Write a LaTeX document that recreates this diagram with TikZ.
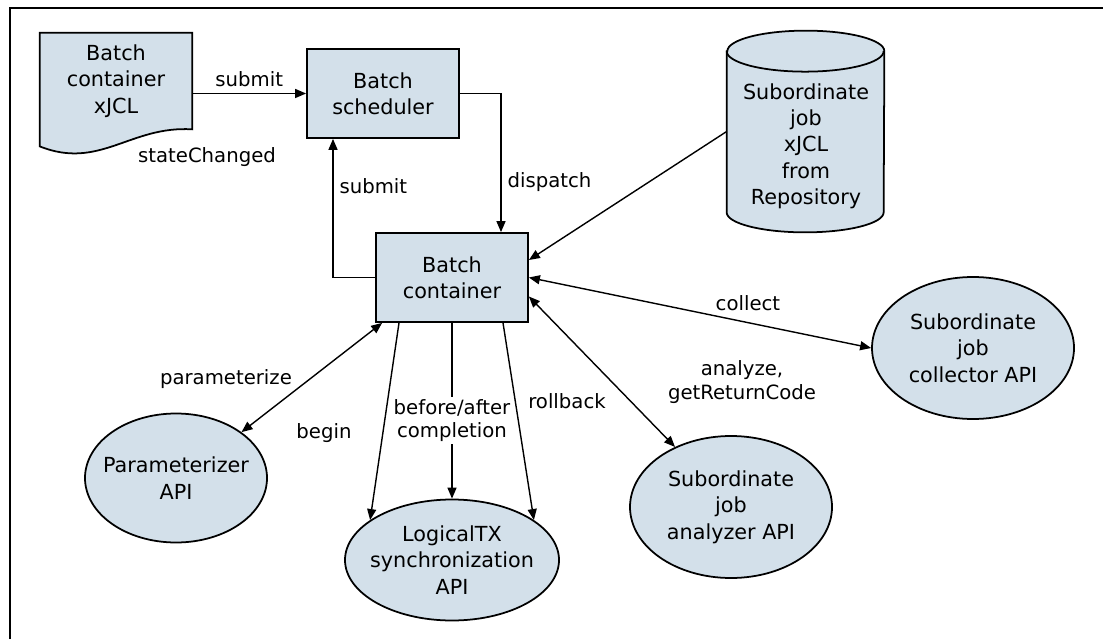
\documentclass[tikz,border=0pt]{standalone}
\usepackage{fontspec}
\setmainfont{DejaVu Sans}
\usepackage{tikz}
\usetikzlibrary{arrows.meta,positioning,shapes.geometric,backgrounds}
\definecolor{shade}{HTML}{D3E0EA}
\tikzset{
  box/.style={draw, fill=shade, line width=1pt, align=center, minimum width=3.04cm, minimum height=1.78cm,
              inner sep=2pt},
  docbox/.style={align=center, minimum width=3.04cm, minimum height=1.92cm, inner sep=2pt},
  docline/.style={draw, fill=shade, line width=1pt},
  repobox/.style={minimum width=3.14cm, minimum height=4.02cm, inner sep=0pt},
  api/.style={ellipse, draw, fill=shade, line width=1pt, inner sep=0pt},
  txt/.style={align=center},
  arr/.style={-{Triangle[length=2.2mm, width=1.8mm]}, line width=0.8pt},
  biarr/.style={{Triangle[length=2.2mm, width=1.8mm]}-{Triangle[length=2.2mm, width=1.8mm]}, line width=0.8pt},
  lab/.style={align=center, font=\fontsize{11.2}{13.6}\selectfont},
  frame/.style={line width=1.1pt},
}
\begin{document}
\begin{tikzpicture}[font=\fontsize{11.8}{15}\selectfont]
    \useasboundingbox (0,0) rectangle (22.06,12.78);
    \draw[frame] (0.2,0) -- (0.2,12.62) -- (22.06,12.62);
    % shapes
    \node[docbox] (xjcl) at (2.32,11.16) {Batch\\container\\xJCL};
    \begin{pgfonlayer}{background}
      \draw[docline] (xjcl.north west) -- (xjcl.north east) -- (xjcl.south east)
        .. controls +(-1.24,0.08) and +(1.2,-0.48) .. ([yshift=-0.34cm]xjcl.south west) -- cycle;
    \end{pgfonlayer}
    \node[box] (sched) at (7.66,10.91) {Batch\\scheduler};
    \node[box] (cont) at (9.04,7.23) {Batch\\container};
    \node[repobox] (repo) at (16.11,10.15) {};
    \draw[docline] ([yshift=-0.41cm]repo.north west) -- ([yshift=0.4cm]repo.south west)
      arc[start angle=180, end angle=360, x radius=1.57cm, y radius=0.4cm]
      -- ([yshift=-0.41cm]repo.north east)
      arc[start angle=0, end angle=180, x radius=1.57cm, y radius=0.41cm] -- cycle;
    \draw[line width=1pt] ([yshift=-0.41cm]repo.north west)
      arc[start angle=180, end angle=360, x radius=1.57cm, y radius=0.41cm];
    \node[txt] (repotext) at (16.12,9.86) {Subordinate\\job\\xJCL\\from\\Repository};
    \node[api, minimum width=3.64cm, minimum height=2.58cm] (param) at (3.52,3.22) {};
    \node[txt] (paramtext) at (param) {Parameterizer\\API};
    \node[api, minimum width=4.28cm, minimum height=2.42cm] (logtx) at (9.04,1.58) {};
    \node[txt] (logtxtext) at (logtx) {LogicalTX\\synchronization\\API};
    \node[api, minimum width=4.04cm, minimum height=2.84cm] (anlz) at (14.62,2.64) {};
    \node[txt] (anlztext) at (anlz) {Subordinate\\job\\analyzer API};
    \node[api, minimum width=4.04cm, minimum height=2.84cm] (coll) at (19.46,5.82) {};
    \node[txt] (colltext) at (coll) {Subordinate\\job\\collector API};
    % free labels
    \node[lab] (statechg) at (4.14,9.64) {stateChanged};
    \node[lab] (paramlbl) at (4.52,5.2) {parameterize};
    \node[lab] (beginlbl) at (6.48,4.12) {begin};
    \node[lab] (rollbacklbl) at (11.34,4.76) {rollback};
    \node[lab] (analyzelbl) at (14.84,5.14) {analyze,\\getReturnCode};
    % connectors
    \draw[arr] (xjcl.east |- sched.west) -- node[lab, above] (submitlbl) {submit} (sched.west);
    \draw[arr] (sched.east) -| node[lab, pos=0.82, right] (dispatchlbl) {dispatch} ([xshift=0.98cm]cont.north);
    \draw[arr] (cont.west) -| node[lab, pos=0.83, right] (resubmitlbl) {submit} ([xshift=-1cm]sched.south);
    \draw[arr] (repo.west) -- ([yshift=0.35cm]cont.east);
    \draw[biarr] (cont.east) -- node[lab, pos=0.64, above=3pt] (collectlbl) {collect} (coll.west);
    \draw[biarr] ([yshift=-0.38cm]cont.east) -- (anlz.133);
    \draw[biarr] ([xshift=0.14cm]cont.south west) -- (param.35);
    \draw[arr] ([xshift=-1.06cm]cont.south) -- (logtx.154);
    \draw[arr] (cont.south) -- node[lab, fill=white, inner sep=1pt, pos=0.556] (completionlbl) {before/after\\completion} (logtx.north);
    \draw[arr] ([xshift=1.02cm]cont.south) -- (logtx.26);
\end{tikzpicture}
\end{document}
